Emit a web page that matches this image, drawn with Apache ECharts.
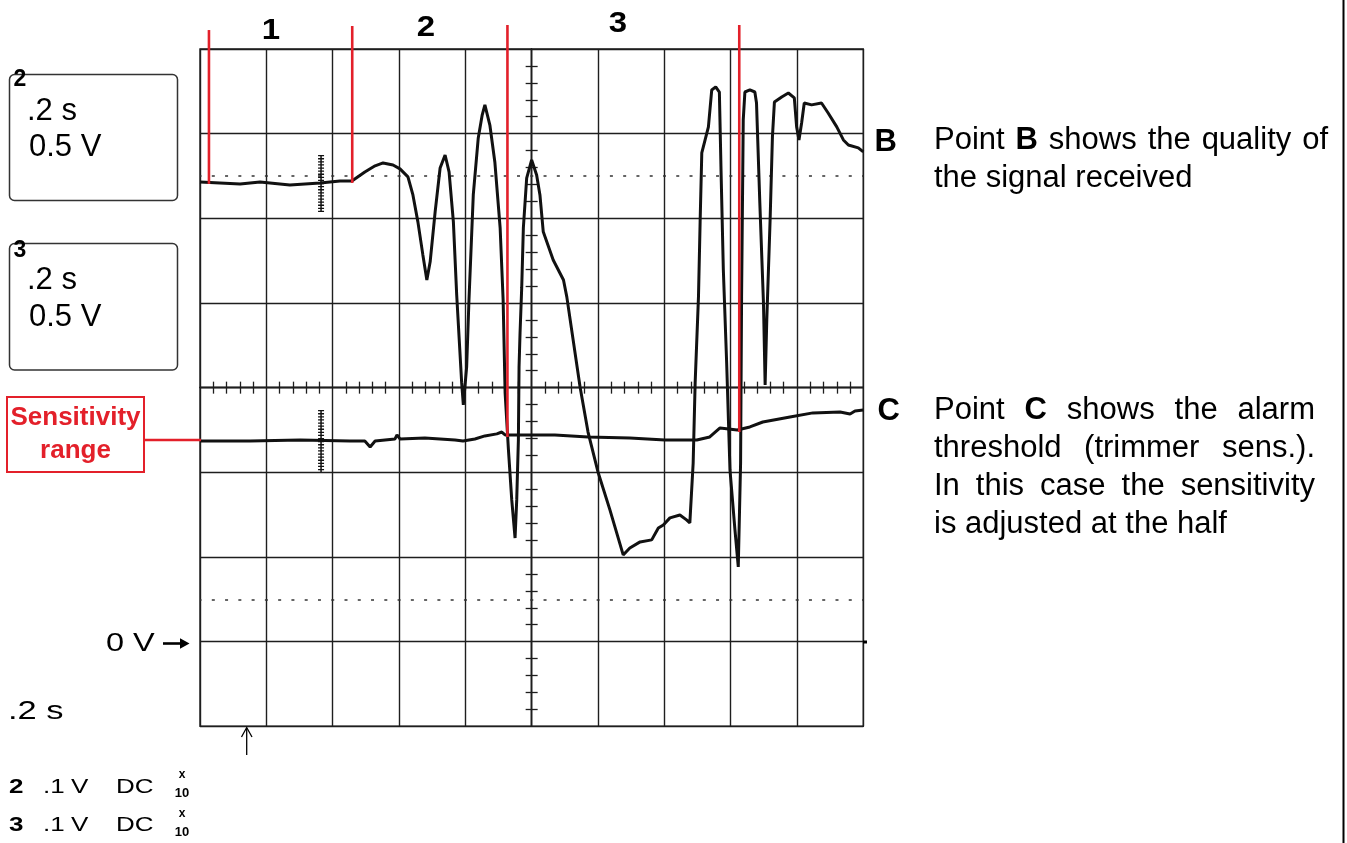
<!DOCTYPE html>
<html><head><meta charset="utf-8">
<script src="https://cdn.jsdelivr.net/npm/echarts@6/dist/echarts.min.js"></script>
<style>html,body{margin:0;padding:0;background:#fff}#c{width:1347px;height:843px}</style>
</head><body><div id="c"></div>
<script>
// ---- Channel 2 (trace B, upper): time [s], voltage [V]
const traceB_t = [0.000,0.060,0.121,0.181,0.271,0.362,0.422,0.458,0.497,0.528,
  0.552,0.582,0.603,0.627,0.642,0.657,0.672,0.684,0.694,0.709,
  0.724,0.739,0.751,0.764,0.774,0.789,0.794,0.804,0.811,0.824,
  0.839,0.851,0.859,0.874,0.889,0.905,0.914,0.920,0.930,0.940,
  0.950,0.955,0.960,0.962,0.965,0.970,0.975,0.985,1.000,1.015,
  1.025,1.035,1.065,1.096,1.106,1.146,1.170,1.200,1.236,1.276,
  1.296,1.327,1.362,1.382,1.397,1.417,1.447,1.467,1.477,1.487,
  1.493,1.503,1.508,1.513,1.523,1.533,1.543,1.555,1.566,1.571,
  1.578,1.588,1.598,1.613,1.623,1.630,1.633,1.638,1.643,1.658,
  1.673,1.678,1.688,1.699,1.704,1.709,1.719,1.726,1.732,1.754,
  1.774,1.792,1.799,1.806,1.814,1.822,1.844,1.874,1.894,1.920,
  1.940,1.955,1.985,2.000];
const traceB_v = [2.715,2.709,2.703,2.715,2.697,2.709,2.721,2.721,2.774,2.810,
  2.827,2.815,2.792,2.745,2.638,2.479,2.284,2.136,2.243,2.538,
  2.797,2.874,2.774,2.479,2.047,1.528,1.398,1.622,2.018,2.638,
  2.975,3.111,3.170,3.051,2.833,2.443,2.018,1.469,1.132,0.837,
  0.612,0.837,1.191,1.622,1.823,2.089,2.443,2.738,2.845,2.756,
  2.638,2.420,2.254,2.136,2.036,1.504,1.238,1.002,0.778,0.512,
  0.553,0.589,0.601,0.671,0.689,0.731,0.748,0.719,0.701,1.055,
  1.528,2.036,2.479,2.886,2.963,3.040,3.258,3.276,3.246,2.786,
  2.195,1.646,1.014,0.660,0.441,1.055,2.036,3.081,3.246,3.258,
  3.246,3.181,2.591,2.000,1.516,1.900,2.490,2.981,3.187,3.217,
  3.240,3.211,3.040,2.963,3.063,3.181,3.170,3.181,3.122,3.040,
  2.963,2.933,2.916,2.892];
// ---- Channel 3 (trace C, lower)
const traceC_t = [0.000,0.151,0.302,0.452,0.497,0.513,0.528,0.588,0.594,0.603,
  0.678,0.769,0.793,0.829,0.859,0.895,0.910,0.920,0.995,1.070,
  1.170,1.296,1.402,1.498,1.537,1.568,1.620,1.658,1.697,1.779,
  1.848,1.930,1.960,1.975,2.000];
const traceC_v = [1.185,1.185,1.191,1.185,1.185,1.150,1.185,1.197,1.221,1.197,
  1.203,1.191,1.185,1.197,1.215,1.227,1.238,1.221,1.221,1.221,
  1.209,1.203,1.191,1.191,1.209,1.262,1.250,1.268,1.297,1.327,
  1.351,1.356,1.344,1.362,1.368];
// ---- red section markers (time, top V, bottom V)
const markerT = [0.027, 0.459, 0.927, 1.626];
const markerTop = [3.612, 3.636, 3.642, 3.642];
const markerBottom = [2.703, 2.709, 1.209, 1.238];
// ---- dotted reference levels [V]
const refLevels = [2.75, 0.25];
// ---- trigger cursor on each trace
const cursorT = 0.365;
const cursorB = [2.874, 2.538];
const cursorC = [1.368, 1.002];
// ---- section labels
const sectionLabels = ['1', '2', '3'];

const FONT = '"Liberation Sans", Arial, Helvetica, sans-serif';
const GRID = '#1e1e1e';
const RED = '#e3202a';

function zip(a, b) { return a.map((v, i) => [v, b[i]]); }

function centerX(inside) {
  return { type: 'value', min: -5, max: 5, interval: 1, position: 'bottom',
    axisLine: { show: true, onZero: true, onZeroAxisIndex: 1, lineStyle: { color: GRID, width: 1.4 } },
    axisTick: { show: false, inside: inside },
    minorTick: { show: true, splitNumber: 5, length: 6, lineStyle: { color: GRID, width: 1.3 } },
    axisLabel: { show: false }, splitLine: { show: false } };
}
function centerY(inside) {
  return { type: 'value', min: -4, max: 4, interval: 1, position: 'left',
    axisLine: { show: true, onZero: true, onZeroAxisIndex: 1, lineStyle: { color: GRID, width: 1.4 } },
    axisTick: { show: false, inside: inside },
    minorTick: { show: true, splitNumber: 5, length: 6, lineStyle: { color: GRID, width: 1.3 } },
    axisLabel: { show: false }, splitLine: { show: false } };
}

const series = [
  { type: 'line', data: zip(traceB_t, traceB_v), showSymbol: false, symbol: 'none', z: 5,
    lineStyle: { color: '#111', width: 3 },
    markLine: { silent: true, symbol: ['none', 'none'], label: { show: false },
      lineStyle: { color: '#333', width: 1.6, type: [3, 10.27], dashOffset: 1.47 },
      data: refLevels.map(v => ({ yAxis: v })) } },
  { type: 'line', data: zip(traceC_t, traceC_v), showSymbol: false, symbol: 'none', z: 5,
    lineStyle: { color: '#111', width: 3 } },
];
markerT.forEach((t, i) => {
  series.push({ type: 'line', clip: false, symbol: 'none', z: 10,
    data: [[t, markerTop[i]], [t, markerBottom[i]]],
    lineStyle: { color: RED, width: 2.6 } });
});
[cursorB, cursorC].forEach(c => {
  series.push({ type: 'line', symbol: 'none', z: 6, data: [[cursorT, c[0]], [cursorT, c[1]]],
    lineStyle: { color: '#111', width: 1.5 } });
  series.push({ type: 'line', symbol: 'none', z: 6, data: [[cursorT, c[0]], [cursorT, c[1]]],
    lineStyle: { color: '#111', width: 6, type: [1.3, 1.8] } });
});

// ---------- text helpers ----------
const mctx = document.createElement('canvas').getContext('2d');
function mw(s, font) { mctx.font = font; return mctx.measureText(s).width; }
function T(x, y, text, o) {
  o = o || {};
  return { type: 'text', x: x, y: y, scaleX: o.sx || 1, z: 100,
    style: { text: text, font: (o.bold ? 'bold ' : '') + (o.size || 31) + 'px ' + FONT,
      fill: o.color || '#000', textAlign: o.align || 'left', textVerticalAlign: 'middle' } };
}
function line(words, x0, x1, y, size, justify) {
  const fonts = words.map(w => (w.b ? 'bold ' : '') + size + 'px ' + FONT);
  const ws = words.map((w, i) => mw(w.t, fonts[i]));
  const total = ws.reduce((a, b) => a + b, 0);
  const gap = justify ? (x1 - x0 - total) / (words.length - 1) : mw(' ', fonts[0]);
  let x = x0; const out = [];
  words.forEach((w, i) => { out.push(T(x, y, w.t, { size: size, bold: w.b })); x += ws[i] + gap; });
  return out;
}
function W(s) { return s.split(' ').map(t => (t === '*B' || t === '*C') ? { t: t.slice(1), b: true } : { t: t }); }

const g = [];
// left channel boxes
g.push({ type: 'rect', shape: { x: 9.5, y: 74.5, width: 168, height: 126, r: 5 }, style: { fill: 'none', stroke: '#333', lineWidth: 1.5 }, z: 90 });
g.push({ type: 'rect', shape: { x: 9.5, y: 243.5, width: 168, height: 126.5, r: 5 }, style: { fill: 'none', stroke: '#333', lineWidth: 1.5 }, z: 90 });
g.push(T(13.5, 80, '2', { bold: true, size: 23 }));
g.push(T(13.5, 251, '3', { bold: true, size: 23 }));
g.push(T(27, 111.7, '.2 s', { size: 31 }));
g.push(T(29, 147.5, '0.5 V', { size: 31 }));
g.push(T(27, 280, '.2 s', { size: 31 }));
g.push(T(29, 317, '0.5 V', { size: 31 }));
// sensitivity range box
g.push({ type: 'rect', shape: { x: 7, y: 397, width: 137, height: 75 }, style: { fill: '#fff', stroke: RED, lineWidth: 2 }, z: 90 });
g.push(T(75.5, 417.5, 'Sensitivity', { bold: true, size: 26, color: RED, align: 'center' }));
g.push(T(75.5, 450.5, 'range', { bold: true, size: 26, color: RED, align: 'center' }));
g.push({ type: 'line', shape: { x1: 144, y1: 440, x2: 201, y2: 440 }, style: { stroke: RED, lineWidth: 2.6 }, z: 90 });
// section labels
[[271, 31], [426, 28], [618, 24]].forEach((p, i) => g.push(T(p[0], p[1], sectionLabels[i], { bold: true, size: 30, align: 'center', sx: 1.1 })));
// right annotations
g.push(T(874.5, 142.5, 'B', { bold: true, size: 31 }));
g.push(...line(W('Point *B shows the quality of'), 934, 1328, 140.8, 31, true));
g.push(...line(W('the signal received'), 934, 0, 178.8, 31, false));
g.push(T(877.5, 411.3, 'C', { bold: true, size: 31 }));
g.push(...line(W('Point *C shows the alarm'), 934, 1315, 410.6, 31, true));
g.push(...line(W('threshold (trimmer sens.).'), 934, 1315, 448.6, 31, true));
g.push(...line(W('In this case the sensitivity'), 934, 1315, 486.6, 31, true));
g.push(...line(W('is adjusted at the half'), 934, 0, 524.6, 31, false));
// 0 V marker
g.push(T(106, 644, '0 V', { size: 26, sx: 1.25 }));
g.push({ type: 'line', shape: { x1: 163, y1: 643.5, x2: 183, y2: 643.5 }, style: { stroke: '#000', lineWidth: 2.6 }, z: 90 });
g.push({ type: 'polygon', shape: { points: [[180, 638.3], [189.5, 643.5], [180, 648.7]] }, style: { fill: '#000' }, z: 90 });
g.push({ type: 'rect', shape: { x: 863, y: 640.5, width: 4, height: 3 }, style: { fill: '#000' }, z: 90 });
// trigger arrow
g.push({ type: 'line', shape: { x1: 246.7, y1: 755, x2: 246.7, y2: 728 }, style: { stroke: '#000', lineWidth: 1.3 }, z: 90 });
g.push({ type: 'polyline', shape: { points: [[241.5, 737], [246.7, 727.5], [252, 737]] }, style: { stroke: '#000', lineWidth: 1.3, fill: 'none' }, z: 90 });
// bottom-left settings
g.push(T(8, 712, '.2 s', { size: 25, sx: 1.38 }));
[[787, '2'], [825.8, '3']].forEach(r => {
  const y = r[0];
  g.push(T(9, y, r[1], { bold: true, size: 20, sx: 1.3 }));
  g.push(T(43, y, '.1', { size: 20, sx: 1.3 }));
  g.push(T(71, y, 'V', { size: 20, sx: 1.3 }));
  g.push(T(116, y, 'DC', { size: 20, sx: 1.3 }));
  g.push(T(182, y - 12, 'x', { bold: true, size: 12, align: 'center' }));
  g.push(T(182, y + 6.5, '10', { bold: true, size: 13, align: 'center' }));
});
// right page border
g.push({ type: 'line', shape: { x1: 1343.5, y1: 0, x2: 1343.5, y2: 843 }, style: { stroke: '#000', lineWidth: 2 }, z: 90 });

const option = {
  animation: false,
  backgroundColor: '#fff',
  grid: { left: 200, top: 49, width: 663.3, height: 677.3, show: true, borderColor: GRID, borderWidth: 1.4, backgroundColor: 'transparent', outerBoundsMode: 'none' },
  xAxis: [
    { type: 'value', min: 0, max: 2, interval: 0.2, position: 'bottom',
      axisLine: { show: false, onZero: false }, axisTick: { show: false }, axisLabel: { show: false },
      splitLine: { show: true, lineStyle: { color: GRID, width: 1.4 } } },
    centerX(true), centerX(false)
  ],
  yAxis: [
    { type: 'value', min: -0.5, max: 3.5, interval: 0.5, position: 'left',
      axisLine: { show: false, onZero: false }, axisTick: { show: false }, axisLabel: { show: false },
      splitLine: { show: true, lineStyle: { color: GRID, width: 1.4 } } },
    centerY(true), centerY(false)
  ],
  series: series,
  graphic: { elements: g }
};
const chart = echarts.init(document.getElementById('c'), null, { renderer: 'canvas' });
chart.setOption(option);
</script>
</body></html>
